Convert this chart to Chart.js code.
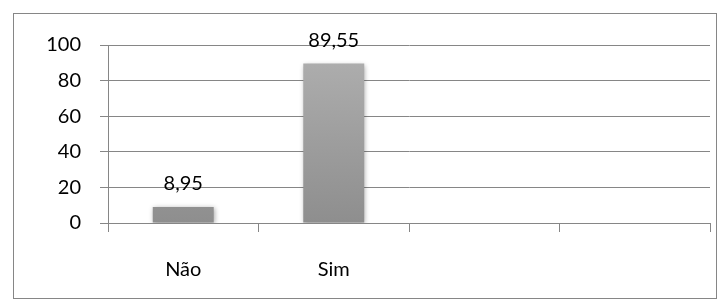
<!DOCTYPE html>
<html>
<head>
<meta charset="utf-8">
<script src="https://cdn.jsdelivr.net/npm/chart.js@4"></script>
<style>
  body { margin: 0; background: #fff; }
  #box { position: absolute; left: 13px; top: 13px; width: 702px; height: 284px; border: 1px solid #868686; }
  canvas { display: block; }
</style>
</head>
<body>
<div id="box"><canvas id="c" width="702" height="284"></canvas></div>
<script>
// categories incl. the two empty slots the original sheet left in
const categories = ['Não', 'Sim', '', ''];
const values = [8.95, 89.55, null, null];
const valueLabels = ['8,95', '89,55', '', ''];
const yTicks = [0, 20, 40, 60, 80, 100];

const FONT = "Lato, 'Open Sans', sans-serif";
const FONT_SIZE = 20;

const barGradient = (context) => {
    const chart = context.chart;
    const area = chart.chartArea;
    if (!area) return '#a0a0a0';
    const g = chart.ctx.createLinearGradient(0, area.top, 0, area.bottom);
    g.addColorStop(0, '#b0b0b0');
    g.addColorStop(1, '#8e8e8e');
    return g;
};

// shadow + value labels above bars
const barExtras = {
    id: 'barExtras',
    beforeDatasetDraw(chart) {
        const ctx = chart.ctx;
        ctx.save();
        ctx.shadowColor = 'rgba(0,0,0,0.35)';
        ctx.shadowBlur = 5;
        ctx.shadowOffsetX = 1;
        ctx.shadowOffsetY = 1;
    },
    afterDatasetDraw(chart) {
        chart.ctx.restore();
    },
    afterDatasetsDraw(chart) {
        const ctx = chart.ctx;
        const meta = chart.getDatasetMeta(0);
        ctx.save();
        ctx.font = FONT_SIZE + 'px ' + FONT;
        ctx.fillStyle = '#000';
        ctx.textAlign = 'center';
        ctx.textBaseline = 'alphabetic';
        meta.data.forEach((bar, i) => {
            if (values[i] == null) return;
            ctx.fillText(valueLabels[i], bar.x, bar.y - 17);
        });
        ctx.restore();
    }
};

new Chart(document.getElementById('c'), {
    type: 'bar',
    data: {
        labels: categories,
        datasets: [{
            data: values,
            backgroundColor: barGradient,
            borderWidth: 0,
            barPercentage: 0.405,
            categoryPercentage: 1
        }]
    },
    options: {
        responsive: false,
        animation: false,
        layout: { padding: { top: 27, right: 6, left: 0, bottom: 0 } },
        plugins: { legend: { display: false }, tooltip: { enabled: false } },
        scales: {
            y: {
                min: 0,
                max: 100,
                afterFit: (s) => { s.width = 94; },
                afterBuildTicks: (s) => { s.ticks = yTicks.map(v => ({ value: v })); },
                ticks: { color: '#000', font: { family: FONT, size: FONT_SIZE }, padding: 19 },
                grid: { color: '#868686', tickLength: 8, lineWidth: 1 },
                border: { color: '#868686' }
            },
            x: {
                afterFit: (s) => { s.height = 75; },
                ticks: { color: '#000', font: { family: FONT, size: FONT_SIZE }, padding: 26 },
                grid: { color: '#868686', drawOnChartArea: false, tickLength: 9, offset: true },
                border: { color: '#868686' }
            }
        }
    },
    plugins: [barExtras]
});
</script>
</body>
</html>
